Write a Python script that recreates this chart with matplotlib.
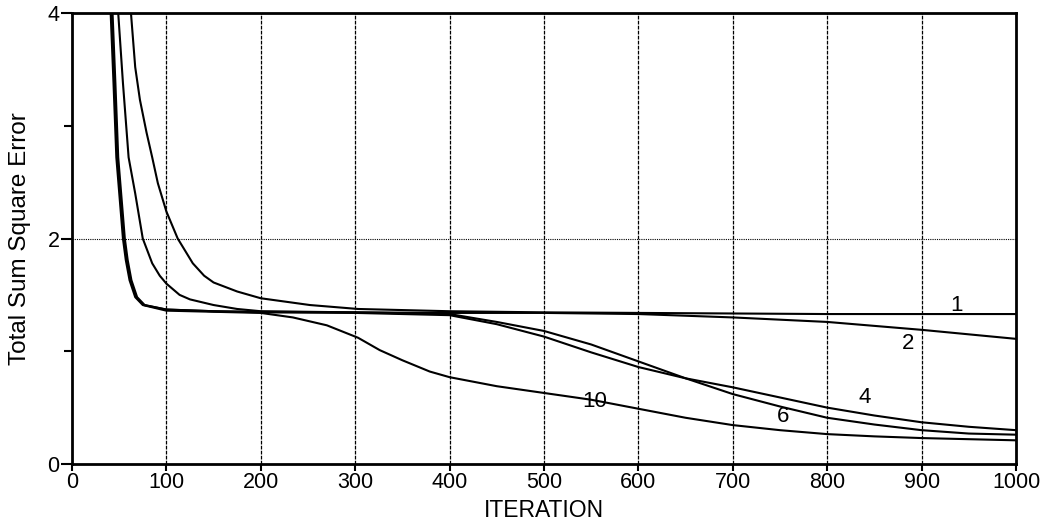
import numpy as np
import matplotlib
matplotlib.use("Agg")
import matplotlib.pyplot as plt

plt.rcParams['font.family'] = ['Liberation Sans', 'DejaVu Sans']

# (iteration, total sum square error)
x1 = [58, 62.5, 67, 72, 79, 85, 91, 100, 109, 112, 128, 140, 150, 175, 200, 252, 303, 400, 500, 600, 700, 800, 900, 1000]
y1 = [4.4, 4.0, 3.52, 3.23, 2.94, 2.72, 2.49, 2.24, 2.06, 2.0, 1.78, 1.67, 1.61, 1.53, 1.47, 1.41, 1.375, 1.355, 1.345, 1.34, 1.335, 1.33, 1.33, 1.33]

x2 = [45, 49, 54, 60, 67, 75, 85, 93, 100, 114, 125, 150, 175, 200, 300, 400, 500, 600, 700, 800, 900, 1000]
y2 = [4.4, 4.0, 3.38, 2.72, 2.40, 2.0, 1.78, 1.67, 1.60, 1.50, 1.46, 1.41, 1.375, 1.355, 1.345, 1.34, 1.34, 1.33, 1.30, 1.26, 1.19, 1.11]

x4 = [39, 42, 45, 48, 55, 58, 62, 68, 76, 100, 150, 200, 300, 400, 450, 500, 550, 600, 650, 700, 750, 800, 850, 900, 950, 1000]
y4 = [4.4, 4.0, 3.38, 2.72, 2.0, 1.81, 1.63, 1.48, 1.41, 1.37, 1.355, 1.345, 1.34, 1.32, 1.24, 1.13, 0.99, 0.86, 0.76, 0.68, 0.59, 0.50, 0.43, 0.37, 0.33, 0.30]

x6 = [40, 43, 46, 49, 56, 59, 63, 69, 77, 100, 150, 200, 300, 400, 450, 500, 550, 600, 650, 700, 750, 800, 850, 900, 950, 1000]
y6 = [4.4, 4.0, 3.38, 2.72, 2.0, 1.81, 1.63, 1.48, 1.41, 1.37, 1.355, 1.35, 1.345, 1.33, 1.26, 1.18, 1.06, 0.91, 0.76, 0.62, 0.51, 0.41, 0.35, 0.30, 0.27, 0.26]

x10 = [38, 41, 44, 47, 54, 57, 61, 67, 75, 100, 150, 200, 234, 270, 303, 326, 350, 379, 400, 450, 500, 550, 600, 650, 700, 750, 800, 850, 900, 950, 1000]
y10 = [4.4, 4.0, 3.38, 2.72, 2.0, 1.81, 1.63, 1.48, 1.41, 1.36, 1.35, 1.34, 1.30, 1.23, 1.12, 1.01, 0.92, 0.82, 0.77, 0.69, 0.63, 0.57, 0.49, 0.41, 0.345, 0.30, 0.265, 0.245, 0.23, 0.22, 0.21]

curves = [(x1, y1), (x2, y2), (x4, y4), (x6, y6), (x10, y10)]

curve_labels = ['1', '2', '4', '6', '10']
label_x = [937, 886, 840, 753, 554]
label_y = [1.41, 1.07, 0.59, 0.42, 0.55]

fig = plt.figure(figsize=(10.52, 5.25), dpi=100)
ax = fig.add_axes([0.0684, 0.1162, 0.8974, 0.859])

for xv in range(100, 1000, 100):
    ax.axvline(xv, color='black', lw=0.9, ls=(0, (3, 1)), zorder=1)
ax.axhline(2, color='black', lw=0.8, ls=(0, (1, 1)), zorder=1)

for xs, ys in curves:
    ax.plot(xs, ys, color='black', lw=1.5, zorder=3)

for t, lx, ly in zip(curve_labels, label_x, label_y):
    ax.text(lx, ly, t, fontsize=16, ha='center', va='center', zorder=4)

ax.set_xlim(0, 1000)
ax.set_ylim(0, 4)
ax.set_xticks(range(0, 1001, 100))
ax.set_yticks([0, 2, 4])
ax.set_yticks([1, 3], minor=True)
ax.tick_params(axis='both', which='both', direction='out', width=1.5, labelsize=15.5, pad=1)
ax.tick_params(axis='y', which='major', length=8)
ax.tick_params(axis='y', which='minor', length=6)
ax.tick_params(axis='x', length=5)
for s in ax.spines.values():
    s.set_linewidth(2)

ax.set_xlabel('ITERATION', fontsize=16.5, labelpad=4)
ax.set_ylabel('Total Sum Square Error', fontsize=17.5, labelpad=12)

fig.savefig('out.png', dpi=100)
